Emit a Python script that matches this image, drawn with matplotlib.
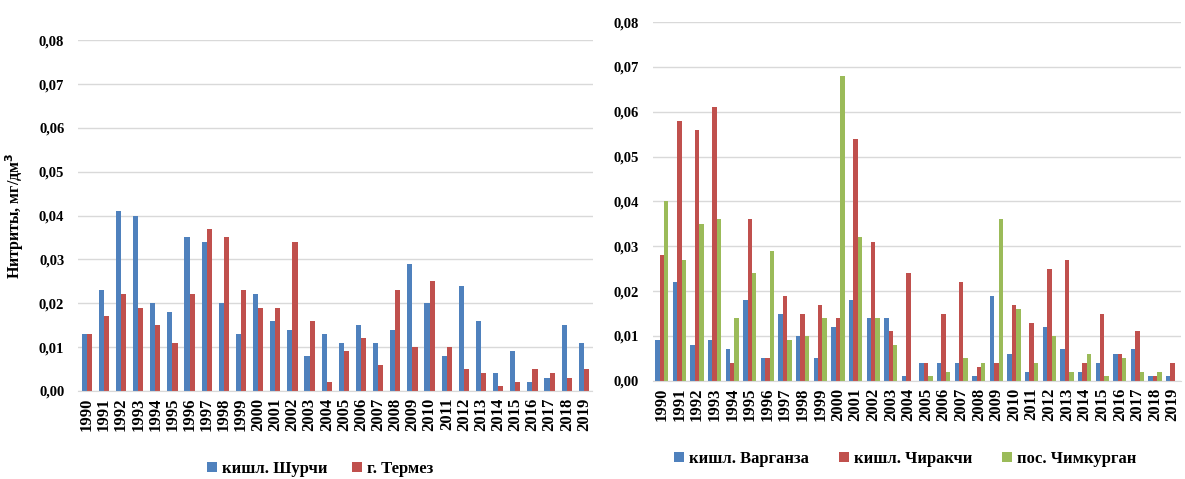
import numpy as np
import matplotlib
matplotlib.use('Agg')
import matplotlib.pyplot as plt
from matplotlib.ticker import FuncFormatter

years = list(range(1990, 2020))

# left chart
shurchi = [0.013, 0.023, 0.041, 0.040, 0.020, 0.018, 0.035, 0.034, 0.020, 0.013,
           0.022, 0.016, 0.014, 0.008, 0.013, 0.011, 0.015, 0.011, 0.014, 0.029,
           0.020, 0.008, 0.024, 0.016, 0.004, 0.009, 0.002, 0.003, 0.015, 0.011]
termez = [0.013, 0.017, 0.022, 0.019, 0.015, 0.011, 0.022, 0.037, 0.035, 0.023,
          0.019, 0.019, 0.034, 0.016, 0.002, 0.009, 0.012, 0.006, 0.023, 0.010,
          0.025, 0.010, 0.005, 0.004, 0.001, 0.002, 0.005, 0.004, 0.003, 0.005]

# right chart
varganza = [0.009, 0.022, 0.008, 0.009, 0.007, 0.018, 0.005, 0.015, 0.010, 0.005,
            0.012, 0.018, 0.014, 0.014, 0.001, 0.004, 0.004, 0.004, 0.001, 0.019,
            0.006, 0.002, 0.012, 0.007, 0.002, 0.004, 0.006, 0.007, 0.001, 0.001]
chirakchi = [0.028, 0.058, 0.056, 0.061, 0.004, 0.036, 0.005, 0.019, 0.015, 0.017,
             0.014, 0.054, 0.031, 0.011, 0.024, 0.004, 0.015, 0.022, 0.003, 0.004,
             0.017, 0.013, 0.025, 0.027, 0.004, 0.015, 0.006, 0.011, 0.001, 0.004]
chimkurgan = [0.040, 0.027, 0.035, 0.036, 0.014, 0.024, 0.029, 0.009, 0.010, 0.014,
              0.068, 0.032, 0.014, 0.008, 0.000, 0.001, 0.002, 0.005, 0.004, 0.036,
              0.016, 0.004, 0.010, 0.002, 0.006, 0.001, 0.005, 0.002, 0.002, 0.000]

BLUE, RED, GREEN = "#4F81BD", "#C0504D", "#9BBB59"
plt.rcParams['font.family'] = ['Liberation Serif', 'DejaVu Serif']
plt.rcParams['font.weight'] = 'bold'

fmt = FuncFormatter(lambda v, p: f"{v:.2f}".replace(".", ","))


def style(ax):
    ax.set_ylim(0, 0.08)
    ax.set_xlim(-0.5, len(years) - 0.5)
    ax.set_yticks(np.arange(0, 0.081, 0.01))
    ax.yaxis.set_major_formatter(fmt)
    ax.grid(axis='y', color='#d9d9d9', linewidth=1)
    ax.set_axisbelow(True)
    for s in ['top', 'right', 'left']:
        ax.spines[s].set_visible(False)
    ax.spines['bottom'].set_color('#d9d9d9')
    ax.set_xticks(range(len(years)))
    ax.set_xticklabels(years, rotation=90, fontsize=12, fontweight='bold')
    ax.tick_params(axis='x', length=0, pad=5)
    ax.tick_params(axis='y', length=0, pad=10)
    for t in ax.get_yticklabels():
        t.set_fontsize(10.5)
        t.set_fontweight('bold')


fig = plt.figure(figsize=(11.85, 4.79), dpi=100)
leg_kw = dict(frameon=False, handlelength=0.6, handleheight=0.6, handletextpad=0.3,
              prop={'weight': 'bold', 'size': 12})

ax1 = fig.add_axes([0.066, 0.184, 0.434, 0.732])
x = np.arange(len(years))
w = 0.3
ax1.bar(x - w / 2, shurchi, w, color=BLUE, label="кишл. Шурчи")
ax1.bar(x + w / 2, termez, w, color=RED, label="г. Термез")
style(ax1)
fig.text(15 / 1185, 0.55, "Нитриты, мг/дм$^\\mathbf{3}$", rotation=90, ha='center', va='center',
         fontsize=11.5, fontweight='bold')
h1, l1 = ax1.get_legend_handles_labels()
fig.legend(h1, l1, loc='center', bbox_to_anchor=(320 / 1185, 1 - 469 / 479), ncol=2,
           columnspacing=1.5, **leg_kw)

ax2 = fig.add_axes([0.551, 0.205, 0.446, 0.749])
w = 0.25
ax2.bar(x - w, varganza, w, color=BLUE, label="кишл. Варганза")
ax2.bar(x, chirakchi, w, color=RED, label="кишл. Чиракчи")
ax2.bar(x + w, chimkurgan, w, color=GREEN, label="пос. Чимкурган")
style(ax2)
h2, l2 = ax2.get_legend_handles_labels()
fig.legend(h2, l2, loc='center', bbox_to_anchor=(905 / 1185, 1 - 459 / 479), ncol=3,
           columnspacing=1.8, **leg_kw)

fig.savefig("out.png", dpi=100)
